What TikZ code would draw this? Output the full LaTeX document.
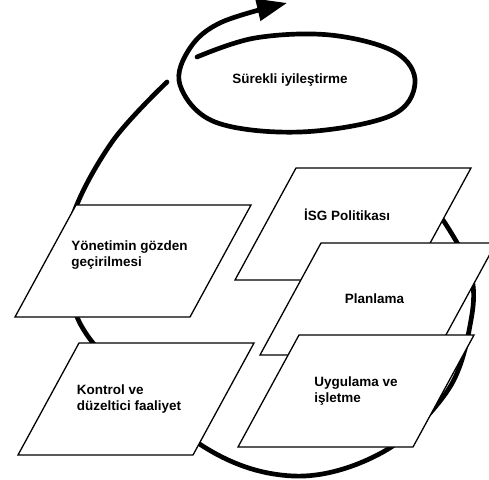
\documentclass[tikz,border=0pt]{standalone}
\usepackage{fontspec}
\setmainfont{Liberation Sans}
\usetikzlibrary{arrows.meta, calc}

% paralelkenar adim kutusu: [metin kaydirma] {ad} {merkez} {metin}
\newcommand\adimkutu[4][]{%
  \coordinate (#2-m) at (#3);
  \draw[kenar] ($(#2-m)+(-118,56)$) -- ++(175,0) -- ++(61,-112) -- ++(-175,0) -- cycle;
  \node[adim,#1] (#2) at (#2-m) {#4};}

\begin{document}
\begin{tikzpicture}[
    x=0.03cm, y=-0.03cm,
    kenar/.style={draw, line width=1.1pt, fill=white, line join=miter},
    adim/.style={inner sep=0pt, font=\fontsize{11.5}{13.5}\selectfont\bfseries, align=left},
    dongu/.style={line width=4pt, line cap=round}
  ]
  \useasboundingbox (0,0) rectangle (489,479);
  % buyuk dongu
  \draw[dongu] plot[smooth, tension=0.6] coordinates {(167,82) (112,142) (72,218) (69,280) (93,343) (198,443) (293,476) (383,452) (448,390) (471,320) (470,270) (443,220)};
  % kucuk dongu ve ok
  \draw[dongu, -{Triangle[length=0.9cm, width=0.65cm]}] plot[smooth, tension=0.6] coordinates {(197,57) (255,38) (330,35) (395,52) (415,83) (390,116) (300,132) (215,122) (180,85) (190,48) (222,22) (287,3)};
  \node[adim] (surekli) at (290,80) {Sürekli iyileştirme};
  % adimlar
  \adimkutu[xshift=-3pt, yshift=5pt]{yonetim}{133,261}{Yönetimin gözden\\geçirilmesi}
  \adimkutu[xshift=-6pt]{kontrol}{136,399}{Kontrol ve\\düzeltici faaliyet}
  \adimkutu[xshift=-5pt, yshift=8pt]{politika}{353,224}{İSG Politikası}
  \adimkutu[xshift=-3pt]{planlama}{378,299}{Planlama}
  \adimkutu{uygulama}{356,391}{Uygulama ve\\işletme}
\end{tikzpicture}
\end{document}
